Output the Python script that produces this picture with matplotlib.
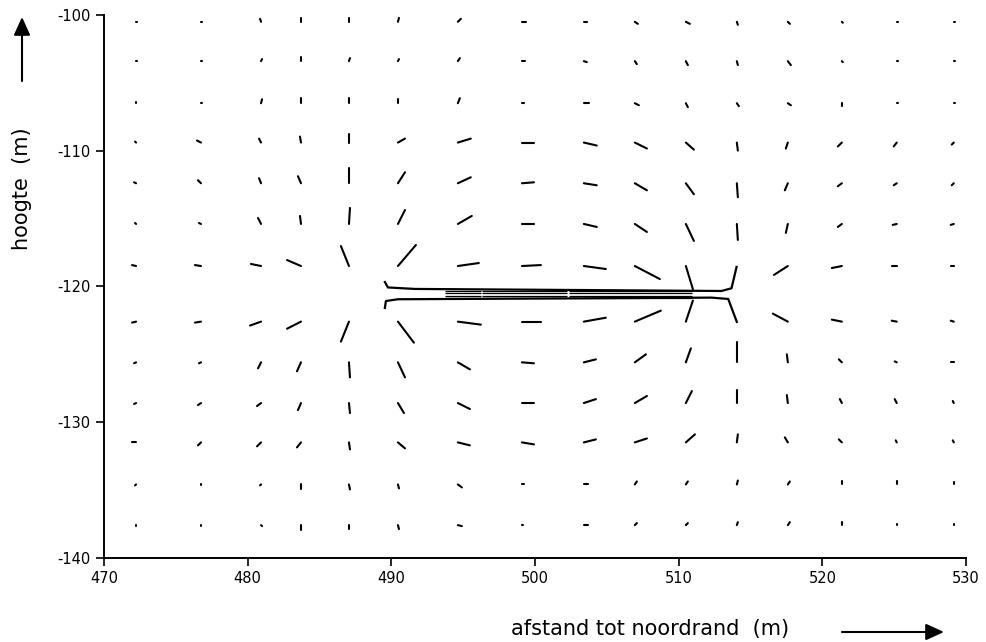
"""
Stroombanen rond een horizontale drain
"""

import numpy as np
import matplotlib
matplotlib.use("Agg")
import matplotlib.pyplot as plt
from matplotlib.collections import LineCollection

plt.rcParams["axes.unicode_minus"] = False

# startpunten van de deeltjes (m)
x_grid = [472.23, 476.75, 480.93, 483.71, 487.05, 490.46, 494.63, 499.09,
          503.40, 506.95, 510.50, 514.05, 517.60, 521.36, 525.18, 529.15]
y_grid = [-100.5, -103.4, -106.5, -109.4, -112.4, -115.4, -118.5,
          -122.6, -125.6, -128.6, -131.5, -134.6, -137.6]

nan = np.nan

# verplaatsing in x (m), per rij van boven naar beneden
u = np.array([
    [0.07, 0.07, -0.07, 0, 0, 0.07, 0.21, 0.28, 0.21, 0.21, 0.28, 0.07, 0.14, 0.07, 0.07, 0.07],
    [0.07, 0.07, 0.07, 0, 0.07, 0.07, 0.14, 0.21, 0.21, 0.14, 0.14, 0.07, 0.21, 0.07, 0.07, 0.07],
    [0, 0.07, 0.07, 0, 0, 0, 0.14, 0.14, 0.35, 0.28, 0.14, 0.14, 0.21, 0, 0.07, 0.07],
    [-0.07, -0.28, -0.14, -0.07, 0, 0.49, 0.9, 0.84, 0.9, 0.84, 0.56, 0.07, -0.14, -0.28, -0.21, -0.14],
    [-0.14, -0.21, -0.14, -0.21, 0, 0.49, 0.9, 0.84, 0.9, 0.84, 0.56, 0.07, -0.21, -0.28, -0.21, -0.14],
    [-0.07, -0.14, -0.21, -0.07, 0.07, 0.49, 0.97, 0.84, 0.9, 0.84, 0.56, 0.07, -0.14, -0.28, -0.28, -0.21],
    [-0.28, -0.42, -0.7, -0.97, -0.56, 1.25, 1.46, 1.32, 1.53, 1.74, 0.49, nan, -0.97, -0.7, -0.35, -0.21],
    [-0.28, -0.42, -0.77, -0.97, -0.56, 1.11, 1.6, 1.32, 1.53, 1.81, 0.49, nan, -1.04, -0.7, -0.35, -0.21],
    [-0.14, -0.14, -0.21, -0.28, 0.07, 0.49, 0.84, 0.84, 0.84, 0.77, 0.35, 0, -0.07, -0.21, -0.14, -0.21],
    [-0.14, -0.21, -0.28, -0.21, 0.07, 0.42, 0.84, 0.84, 0.84, 0.84, 0.42, 0, -0.07, -0.14, -0.14, -0.07],
    [-0.28, -0.21, -0.28, -0.28, 0.07, 0.49, 0.84, 0.84, 0.84, 0.84, 0.63, 0.07, -0.21, -0.21, -0.07, -0.07],
    [-0.07, 0, -0.07, 0, 0.07, 0.07, 0.28, 0.14, 0.28, 0.14, 0.14, 0.07, 0.14, 0, 0, 0],
    [0, 0, 0.07, 0, 0, 0.07, 0.28, 0.07, 0.28, 0.14, 0.14, 0.07, 0.14, 0, 0, 0],
])

# verplaatsing in z (m)
v = np.array([
    [0, 0, 0.22, 0.29, 0.29, 0.29, 0.22, 0, 0, -0.15, -0.15, -0.22, -0.15, -0.07, 0, 0],
    [0, 0, 0.15, 0.29, 0.22, 0.15, 0.22, 0, -0.07, -0.22, -0.29, -0.29, -0.29, -0.07, 0, 0],
    [0.07, 0, 0.29, 0.37, 0.37, 0.29, 0.37, 0, 0, -0.15, -0.29, -0.22, -0.15, -0.22, 0, 0],
    [0.07, 0.15, 0.29, 0.44, 0.66, 0.29, 0.29, 0, -0.22, -0.44, -0.52, -0.59, -0.44, -0.29, -0.29, -0.15],
    [0.07, 0.22, 0.37, 0.52, 1.11, 0.81, 0.44, 0.07, -0.15, -0.52, -0.81, -1.03, -0.52, -0.22, -0.15, -0.15],
    [0.07, 0.07, 0.44, 0.59, 1.18, 1.03, 0.59, 0, -0.22, -0.59, -1.25, -1.18, -0.66, -0.22, -0.07, -0.07],
    [0.07, 0.07, 0.15, 0.44, 1.47, 1.55, 0.22, 0.07, -0.22, -0.96, -1.70, nan, -0.66, -0.15, 0, 0],
    [-0.07, -0.07, -0.29, -0.52, -1.47, -1.55, -0.22, 0, 0.29, 0.81, 1.55, nan, 0.59, 0.15, 0.07, 0.07],
    [-0.07, -0.07, -0.44, -0.66, -1.11, -1.11, -0.52, -0.07, 0.22, 0.59, 1.03, 1.47, 0.59, 0.22, 0.07, 0],
    [-0.07, -0.15, -0.22, -0.52, -0.74, -0.74, -0.44, 0, 0.29, 0.52, 0.88, 0.96, 0.59, 0.29, 0.29, 0.15],
    [0, -0.22, -0.29, -0.37, -0.52, -0.44, -0.22, -0.15, 0.22, 0.29, 0.59, 0.59, 0.37, 0.22, 0.15, 0.15],
    [-0.07, -0.07, -0.07, -0.37, -0.37, -0.29, -0.22, 0, 0, 0.22, 0.22, 0.29, 0.22, 0.22, 0.22, 0.15],
    [-0.07, -0.07, -0.07, -0.37, -0.29, -0.29, -0.07, 0, 0, 0.15, 0.15, 0.22, 0.22, 0.22, 0.07, 0.07],
])

# banen door de drain
drain_top_x = [514.03, 513.68, 512.98, 491.64, 489.76, 489.55]
drain_top_y = [-118.57, -120.14, -120.34, -120.19, -120.08, -119.68]
drain_bot_x = [514.05, 513.45, 512.29, 490.46, 489.62, 489.55]
drain_bot_y = [-122.62, -120.93, -120.83, -120.95, -121.08, -121.59]
band_y = [-120.36, -120.52, -120.68, -120.84]
band_x = [493.7, 496.3, 502.3, 511.0]

fig = plt.figure(figsize=(9.87, 6.42), dpi=100)
ax = fig.add_axes([0.1054, 0.1313, 0.8733, 0.8453])

segs = []
for i, yy in enumerate(y_grid):
    for j, xx in enumerate(x_grid):
        if np.isnan(u[i, j]):
            continue
        segs.append([(xx, yy), (xx + u[i, j], yy + v[i, j])])
lc = LineCollection(segs, colors="black", linewidths=1.5, capstyle="round")
ax.add_collection(lc)

ax.plot(drain_top_x, drain_top_y, color="black", lw=1.6)
ax.plot(drain_bot_x, drain_bot_y, color="black", lw=1.6)
for yb in band_y:
    for k in range(len(band_x) - 1):
        ax.plot([band_x[k] + 0.04, band_x[k + 1] - 0.04], [yb, yb],
                color="black", lw=0.9, solid_capstyle="butt")

ax.set_xlim(470, 530)
ax.set_ylim(-140, -100)
ax.set_xticks(range(470, 531, 10))
ax.set_yticks(range(-140, -99, 10))
for s in ["top", "right"]:
    ax.spines[s].set_visible(False)
for s in ["left", "bottom"]:
    ax.spines[s].set_linewidth(1.4)
ax.tick_params(direction="out", length=6, width=1.2, labelsize=10.5)
for lab in ax.get_xticklabels() + ax.get_yticklabels():
    lab.set_family(["Liberation Sans Narrow", "DejaVu Sans"])

fig.text(650 / 987, 1 - 629 / 642, "afstand tot noordrand  (m)",
         ha="center", va="center", fontsize=15, family="DejaVu Sans")
fig.text(22 / 987, 1 - 189 / 642, "hoogte  (m)", rotation=90,
         ha="center", va="center", fontsize=15, family="DejaVu Sans")

arrow = dict(arrowstyle="-|>,head_length=1.1,head_width=0.5", color="black",
             lw=1.5, shrinkA=0, shrinkB=0)
ax.annotate("", xy=(944 / 987, 1 - 632 / 642), xytext=(842 / 987, 1 - 632 / 642),
            xycoords="figure fraction", arrowprops=arrow)
ax.annotate("", xy=(22 / 987, 1 - 17 / 642), xytext=(22 / 987, 1 - 81 / 642),
            xycoords="figure fraction", arrowprops=arrow)

fig.savefig("out.png", dpi=100)
plt.close(fig)
